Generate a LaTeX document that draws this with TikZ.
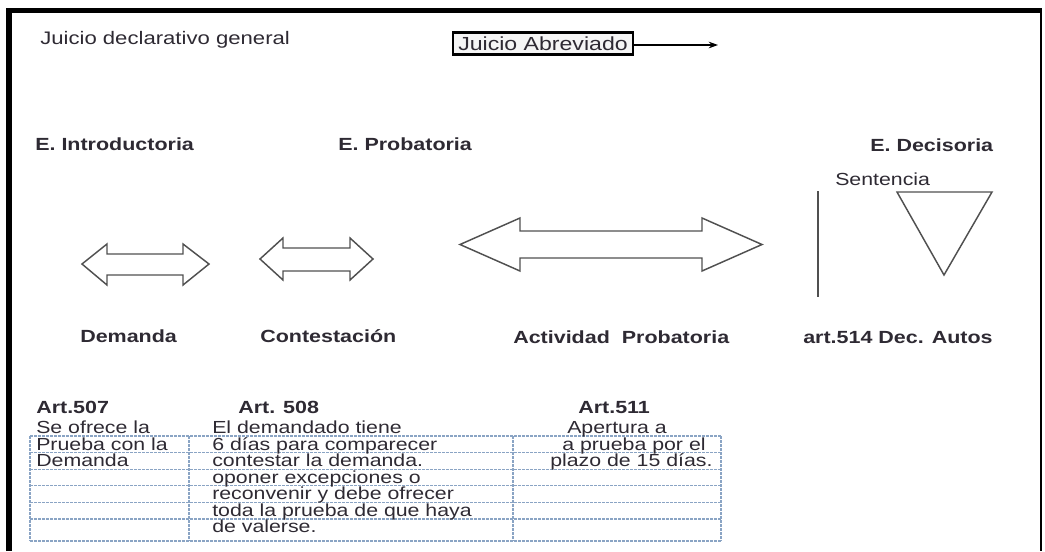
\documentclass[tikz,border=0pt]{standalone}
\usepackage{fontspec}
\setmainfont{Liberation Sans}[FakeStretch=1.22]
\usetikzlibrary{arrows.meta}
\definecolor{trazo}{HTML}{505050}
\definecolor{punteado}{HTML}{8AA4C4}
\definecolor{letra}{HTML}{2E2A33}
\tikzset{
  texto/.style={font=\fontsize{13.1}{14}\selectfont, text=letra, inner sep=0pt, anchor=base west},
  negrita/.style={texto, font=\fontsize{13.2}{14}\selectfont\bfseries},
  flecha/.style={draw=trazo, line width=1.1pt, line join=miter},
  tabla/.style={draw=punteado, line width=0.8pt, dash pattern=on 2pt off 1pt}
}
\begin{document}
\begin{tikzpicture}[x=0.75pt,y=-0.75pt]
\useasboundingbox (0,0) rectangle (1045,551);

% marco
	\draw[line width=3.8pt] (9,551) -- (9,10.5) -- (1042,10.5);
	\draw[line width=1.5pt] (1041,10.5) -- (1041,551);

% encabezado
	\node[texto, font=\fontsize{13.6}{14}\selectfont] (general) at (40,44) {Juicio declarativo general};
	\node[draw=black, line width=2.2pt, fill=gray!8, minimum width=135pt, minimum height=17pt,
	      inner sep=0pt, font=\fontsize{14.2}{14}\selectfont, text=letra] (abreviado) at (543,43.5) {Juicio Abreviado};
	\coordinate (abrevfin) at (718,45);
	\draw[line width=0.9pt, -{Stealth[length=7pt,width=5pt]}] (abreviado.east |- abrevfin) -- (abrevfin);

% etapas
	\node[negrita] (intro) at (35,150) {E. Introductoria};
	\node[negrita] (prob) at (338,150) {E. Probatoria};
	\node[negrita] (dec) at (870,151) {E. Decisoria};
	\node[texto] (sentencia) at (835,185) {Sentencia};

% flechas dobles
	\draw[flecha] (82,264) -- (107,244) -- (107,254) -- (183,254) -- (183,244) -- (209,264)
		-- (183,285) -- (183,275) -- (107,275) -- (107,285) -- cycle;
	\draw[flecha] (260,259) -- (283,238) -- (283,248) -- (350,248) -- (350,238) -- (373,259)
		-- (350,280) -- (350,271) -- (283,271) -- (283,280) -- cycle;
	\draw[flecha] (460,244.5) -- (520,218) -- (520,231) -- (702,231) -- (702,218) -- (762,244.5)
		-- (702,271) -- (702,258) -- (520,258) -- (520,271) -- cycle;

% sentencia
	\draw[flecha] (818,191) -- (818,297);
	\draw[flecha] (897,192) -- (992,192) -- (944,275) -- cycle;

% actos
	\node[negrita] (demanda) at (80,342) {Demanda};
	\node[negrita] (contestacion) at (260,342) {Contestación};
	\node[negrita] (actividad) at (513,343) {Actividad\ \ Probatoria};
	\node[negrita] (autos) at (803,343) {art.514 Dec. Autos};

% tabla
	\foreach \y in {436, 452.6, 469.2, 485.8, 502.4, 519, 541}
		\draw[tabla] (30,\y) -- (721,\y);
	\foreach \x in {30, 189, 513, 721}
		\draw[tabla] (\x,436) -- (\x,541);

	\node[negrita] (art507) at (36,413) {Art.507};
	\node[negrita] (art508) at (238,413) {Art. 508};
	\node[negrita] (art511) at (578,413) {Art.511};

	\foreach \t [count=\i from 0] in {Se ofrece la, Prueba con la, Demanda}
		\node[texto] (uno\i) at (36,{433.5+16.6*\i}) {\t};
	\foreach \t [count=\i from 0] in {El demandado tiene, 6 días para comparecer,
		contestar la demanda., oponer excepciones o, reconvenir y debe ofrecer,
		toda la prueba de que haya, de valerse.}
		\node[texto] (dos\i) at (212,{433.5+16.5*\i}) {\t};
	\node[texto] (tres0) at (567,433.5) {Apertura a};
	\node[texto] (tres1) at (562,450.1) {a prueba por el};
	\node[texto] (tres2) at (550,466.7) {plazo de 15\ días.};
\end{tikzpicture}
\end{document}
